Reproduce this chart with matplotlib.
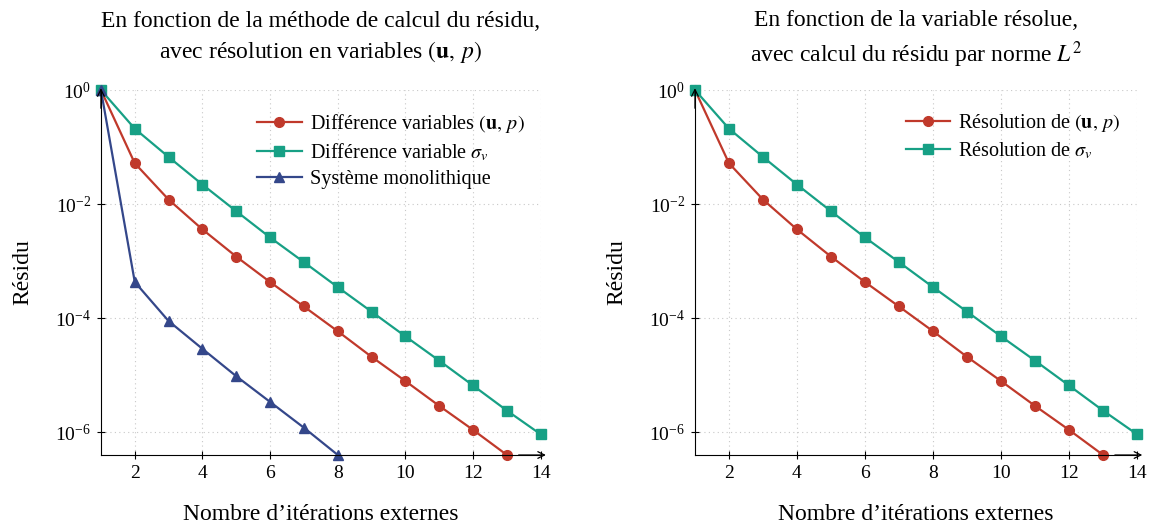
import numpy as np
import matplotlib.pyplot as plt

plt.rcParams['font.family'] = ['Liberation Serif', 'DejaVu Serif']
plt.rcParams['mathtext.fontset'] = 'stix'

# data
iters = [1, 2, 3, 4, 5, 6, 7, 8, 9, 10, 11, 12, 13, 14]
res_up = [1.0, 5.2e-2, 1.2e-2, 3.6e-3, 1.2e-3, 4.3e-4, 1.6e-4, 5.9e-5,
          2.1e-5, 7.9e-6, 2.9e-6, 1.1e-6, 4.0e-7]
res_sigma = [1.0, 2.1e-1, 6.7e-2, 2.2e-2, 7.5e-3, 2.6e-3, 9.6e-4, 3.5e-4,
             1.3e-4, 4.8e-5, 1.8e-5, 6.6e-6, 2.4e-6, 9.2e-7]
res_mono = [1.0, 4.3e-4, 8.9e-5, 2.9e-5, 9.6e-6, 3.4e-6, 1.2e-6, 4.0e-7]

red = '#c0392b'
green = '#17a085'
blue = '#34478a'

fig = plt.figure(figsize=(11.51, 5.27), dpi=100)
ax1 = fig.add_axes([0.0877, 0.1366, 0.382, 0.6926])
ax2 = fig.add_axes([0.6038, 0.1366, 0.384, 0.6926])


def style_axis(ax):
    ax.set_yscale('log')
    ax.set_xlim(1, 14)
    ax.set_ylim(10 ** -6.4, 1)
    ax.set_xticks([2, 4, 6, 8, 10, 12, 14])
    ax.set_yticks([1, 1e-2, 1e-4, 1e-6])
    ax.set_yticks([], minor=True)
    ax.grid(True, linestyle=(0, (1, 3)), color='#c8c8c8', linewidth=0.8)
    ax.spines['top'].set_visible(False)
    ax.spines['right'].set_visible(False)
    ax.tick_params(direction='inout', length=6, labelsize=14, pad=4)
    arrow = dict(arrowstyle='->', color='black', lw=0.9, shrinkA=0, shrinkB=0,
                 mutation_scale=12)
    ax.annotate('', xy=(1.012, 0), xytext=(0.95, 0), xycoords='axes fraction',
                arrowprops=arrow, annotation_clip=False)
    ax.annotate('', xy=(0, 1.005), xytext=(0, 0.95), xycoords='axes fraction',
                arrowprops=arrow, annotation_clip=False)
    ax.set_xlabel('Nombre d\u2019itérations externes', fontsize=17, labelpad=16)
    ax.set_ylabel('Résidu', fontsize=17, labelpad=16)


ax1.plot(iters[:len(res_up)], res_up, '-o', color=red, lw=1.6, ms=7, clip_on=False,
         label=r'Différence variables $(\mathbf{u},\, p)$')
ax1.plot(iters[:len(res_sigma)], res_sigma, '-s', color=green, lw=1.6, ms=6.5, clip_on=False,
         label=r'Différence variable $\sigma_v$')
ax1.plot(iters[:len(res_mono)], res_mono, '-^', color=blue, lw=1.6, ms=7, clip_on=False,
         label='Système monolithique')
style_axis(ax1)
ax1.set_title('En fonction de la méthode de calcul du résidu,\n'
              r'avec résolution en variables $(\mathbf{u},\, p)$',
              fontsize=17, pad=23, linespacing=1.35)
ax1.legend(loc='upper right', frameon=False, fontsize=14.5, handlelength=2.2,
           handletextpad=0.4, labelspacing=0.35, borderaxespad=0.4,
           bbox_to_anchor=(1.0, 0.985))

ax2.plot(iters[:len(res_up)], res_up, '-o', color=red, lw=1.6, ms=7, clip_on=False,
         label=r'Résolution de $(\mathbf{u},\, p)$')
ax2.plot(iters[:len(res_sigma)], res_sigma, '-s', color=green, lw=1.6, ms=6.5, clip_on=False,
         label=r'Résolution de $\sigma_v$')
style_axis(ax2)
ax2.set_title('En fonction de la variable résolue,\n'
              r'avec calcul du résidu par norme $L^2$',
              fontsize=17, pad=20, linespacing=1.35)
ax2.legend(loc='upper right', frameon=False, fontsize=14.5, handlelength=2.2,
           handletextpad=0.4, labelspacing=0.35, borderaxespad=0.4,
           bbox_to_anchor=(1.0, 0.985))

fig.savefig('out.png', dpi=100)
